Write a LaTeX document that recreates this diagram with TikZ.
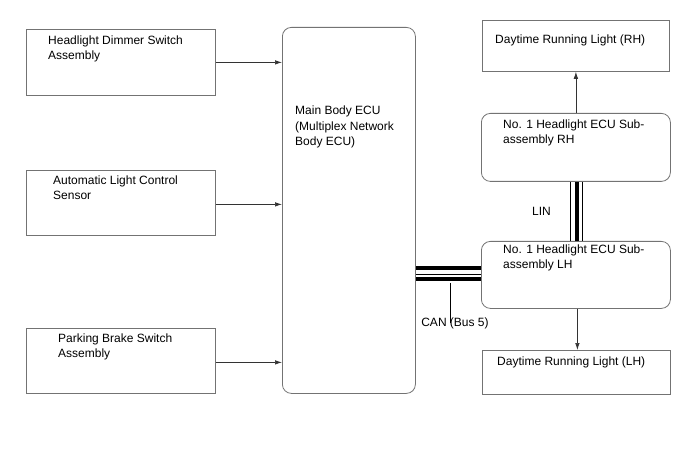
\documentclass[tikz,border=0pt]{standalone}
\usepackage{fontspec}
\setmainfont{Liberation Sans}
\usetikzlibrary{arrows.meta}
\begin{document}
\begin{tikzpicture}[x=1bp,y=-1bp,
  box/.style={draw=black!55,line width=0.8bp,inner sep=0},
  rbox/.style={box,rounded corners=9bp},
  lbl/.style={anchor=north west,inner sep=0,align=left,font=\fontsize{12bp}{14.5bp}\selectfont},
  arr/.style={draw=black!80,line width=0.7bp,-{Latex[length=7bp,width=4.5bp]}},
  thick bus/.style={line width=4bp},
  thin bus/.style={line width=1bp}]
\path[use as bounding box,fill=white] (0,0) rectangle (688,463);
% left boxes
\node[box,minimum width=189bp,minimum height=66bp,anchor=north west] (b1) at (26,29) {};
\node[box,minimum width=189bp,minimum height=65bp,anchor=north west] (b2) at (26,170) {};
\node[box,minimum width=189bp,minimum height=65bp,anchor=north west] (b3) at (26,328) {};
\node[lbl] (t1) at (48,36) {Headlight Dimmer Switch\\Assembly};
\node[lbl] (t2) at (53,176) {Automatic Light Control\\Sensor};
\node[lbl] (t3) at (58,334) {Parking Brake Switch\\Assembly};
% main ECU
\node[rbox,minimum width=133bp,minimum height=366bp,anchor=north west] (ecu) at (282,27) {};
\node[lbl,font=\fontsize{12bp}{15.5bp}\selectfont] (tecu) at (295,106) {Main Body ECU\\(Multiplex Network\\Body ECU)};
% right boxes
\node[box,minimum width=187bp,minimum height=51bp,anchor=north west] (drlrh) at (482,20) {};
\node[rbox,minimum width=189bp,minimum height=68bp,anchor=north west] (hlrh) at (481,113) {};
\node[rbox,minimum width=189bp,minimum height=67bp,anchor=north west] (hllh) at (481,241) {};
\node[box,minimum width=188bp,minimum height=44bp,anchor=north west] (drllh) at (482,350) {};
\node[lbl] (tdrlrh) at (495,35) {Daytime Running Light (RH)};
\node[lbl] (thlrh) at (503,120) {No. 1 Headlight ECU Sub-\\assembly RH};
\node[lbl] (thllh) at (503,245) {No. 1 Headlight ECU Sub-\\assembly LH};
\node[lbl] (tdrllh) at (497,357) {Daytime Running Light (LH)};
% arrows
\draw[arr] (b1.east) -- (b1.east -| ecu.west);
\draw[arr] ([yshift=-1.5bp]b2.east) -- ([yshift=-1.5bp]b2.east -| ecu.west);
\draw[arr] ([yshift=-1.5bp]b3.east) -- ([yshift=-1.5bp]b3.east -| ecu.west);
\draw[arr] (hlrh.north) -- (hlrh.north |- drlrh.south);
\draw[arr] ([xshift=1.5bp]hllh.south) -- ([xshift=1.5bp]hllh.south |- drllh.north);
% CAN bus
\draw[thick bus] ([yshift=-4.5bp]hllh.west -| ecu.east) -- ([yshift=-4.5bp]hllh.west);
\draw[thin bus] (hllh.west -| ecu.east) -- (hllh.west);
\draw[thick bus] ([yshift=7bp]hllh.west -| ecu.east) -- ([yshift=7bp]hllh.west);
\coordinate (cantick) at (450,283);
\node[lbl,anchor=north] (can) at (455,318) {CAN (Bus 5)};
\draw[line width=0.8bp] (cantick) -- ([yshift=-5bp]cantick |- can.north);
% LIN bus
\draw[thin bus] ([xshift=-5bp]hlrh.south) -- ([xshift=-5bp]hlrh.south |- hllh.north);
\draw[thick bus] ([xshift=1bp]hlrh.south) -- ([xshift=1bp]hlrh.south |- hllh.north);
\draw[thin bus] ([xshift=6.5bp]hlrh.south) -- ([xshift=6.5bp]hlrh.south |- hllh.north);
\node[lbl] (lin) at (532,207) {LIN};
\end{tikzpicture}
\end{document}
